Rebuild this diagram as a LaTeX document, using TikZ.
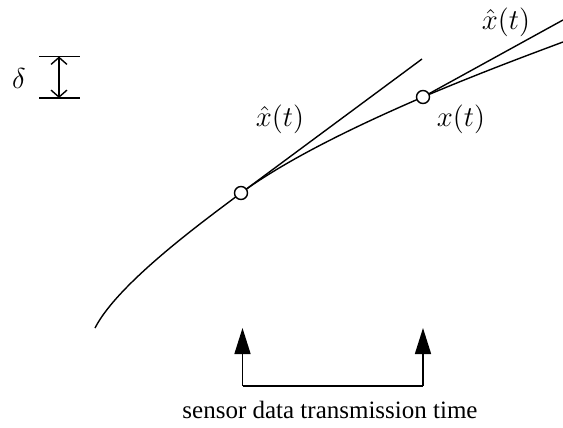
\documentclass[tikz,border=0pt]{standalone}
\usepackage{fontspec}
\newfontfamily\capfont{Liberation Serif}
\usetikzlibrary{arrows.meta}
\begin{document}
\begin{tikzpicture}[x=0.5pt,y=-0.5pt,
  line/.style={line width=0.7pt},
  sample/.style={circle,draw,line width=0.7pt,fill=white,inner sep=0pt,minimum size=6.5pt},
  lbl/.style={font=\fontsize{14}{16}\selectfont,inner sep=0pt},
  timearrow/.style={line width=0.8pt,-{Triangle[length=13pt,width=8pt]}},
  deltaarrow/.style={line width=0.7pt,{Straight Barb[length=3.5pt,width=8pt]}-{Straight Barb[length=3.5pt,width=8pt]}}]
\useasboundingbox (0,0) rectangle (563,428);
\coordinate (S) at (95,328);
\coordinate (A) at (241,193);
\coordinate (B) at (423,97);
\coordinate (E) at (563,42);
\coordinate (tA) at (422,59);
\coordinate (tB) at (563,20);
% trajectory
\draw[line] (S) .. controls (118,283) and (205,220) .. (A)
            .. controls (290,157) and (365,122) .. (B)
            .. controls (475,75) and (520,58) .. (E);
% tangent predictions
\draw[line] (A) -- (tA);
\draw[line] (B) -- (tB);
\node[sample] (sA) at (A) {};
\node[sample] (sB) at (B) {};
% labels
\node[lbl] (l1) at (280,119) {$\hat{x}(t)$};
\node[lbl] (l2) at (461,119) {$x(t)$};
\node[lbl] (l3) at (506,22) {$\hat{x}(t)$};
% delta
\node[lbl] (d) at (19,79) {$\delta$};
\coordinate (dt1) at (39,56.5);
\coordinate (dt2) at (80,56.5);
\coordinate (db1) at (39,98);
\coordinate (db2) at (80,98);
\draw[line] (dt1) -- (dt2);
\draw[line] (db1) -- (db2);
\coordinate (dtop) at (59,56.5);
\coordinate (dbot) at (59,98);
\draw[deltaarrow] (dtop) -- (dbot);
% transmission time arrows
\coordinate (c1) at (242.5,386);
\coordinate (c2) at (423,386);
\coordinate (t1) at (242.5,328);
\coordinate (t2) at (423,328);
\draw[line] (c1) -- (c2);
\draw[timearrow] (c1) -- (t1);
\draw[timearrow] (c2) -- (t2);
\node[font=\capfont\fontsize{12.5}{14}\selectfont,inner sep=0pt] (cap) at (330,410) {sensor data transmission time};
\end{tikzpicture}
\end{document}
